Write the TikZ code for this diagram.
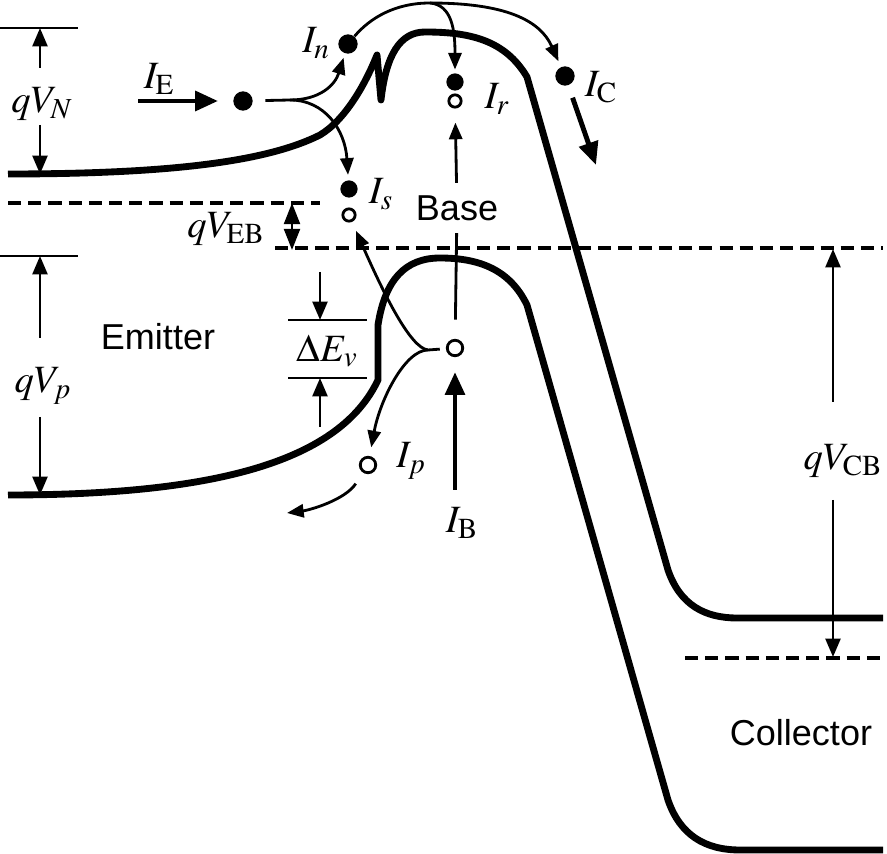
\documentclass[tikz,border=0pt]{standalone}
\usepackage{mathptmx}
\usepackage{fontspec}
\setmainfont{Liberation Serif}
\setsansfont{Liberation Sans}
\DeclareMathSizes{22}{22}{16.5}{12}
\usetikzlibrary{arrows.meta}
\begin{document}
\begin{tikzpicture}[x=0.02cm,y=-0.02cm,
	band/.style={line width=3.9pt,line join=round},
	wire/.style={line width=1.6pt},
	fermi/.style={line width=1.9pt,dash pattern=on 7.5pt off 4pt},
	tip/.style={-{Triangle[length=9.5pt,width=7.5pt]}},
	dim/.style={wire,-{Triangle[length=10.5pt,width=8.5pt]}},
	flow/.style={line width=2.8pt,-{Triangle[length=13pt,width=11pt]}},
	elec/.style={circle,fill,inner sep=0pt,minimum size=11pt},
	hole/.style={circle,draw,line width=1.6pt,inner sep=0pt,minimum size=8.8pt},
	lbl/.style={inner sep=0pt,font=\fontsize{22}{26}\selectfont},
	region/.style={inner sep=0pt,font=\sffamily\fontsize{20.5}{24}\selectfont}]
	\useasboundingbox (0,0) rectangle (887,854);
	\draw[band] (8,174) .. controls (180,174) and (270,160) .. (320,135) .. controls (345,120) and (365,85) .. (377,55) -- (381,100) .. controls (386,55) and (400,32) .. (425,32) .. controls (470,32) and (505,40) .. (527,77) -- (668,570) .. controls (680,605) and (705,618) .. (737,618) -- (883,618);
	\draw[band] (8,495) .. controls (220,495) and (340,460) .. (378,380) -- (378,325) .. controls (385,280) and (405,258) .. (440,258) .. controls (480,258) and (510,270) .. (527,305) -- (668,800) .. controls (680,835) and (705,850) .. (740,850) -- (883,850);
	\draw[fermi] (8,203) -- (320,203);
	\draw[fermi] (275,248) -- (883,248);
	\draw[fermi] (685,658) -- (880,658);
	\draw[wire] (0,28) -- (78,28);
	\draw[wire] (0,256) -- (78,256);
	\draw[wire] (288,320) -- (367,320);
	\draw[wire] (288,378) -- (367,378);
	\node[region] (emit) at (158,337) {Emitter};
	\node[region] (base) at (457,208) {Base};
	\node[region] (coll) at (801,733) {Collector};
	\node[lbl] (lVN) at (42,104) {$qV_N$};
	\node[lbl] (lVp) at (43,386) {$qV_p$};
	\node[lbl] (lEB) at (226,229) {$qV_{\mathrm{EB}}$};
	\node[lbl] (lCB) at (843,461) {$qV_{\mathrm{CB}}$};
	\node[lbl] (lDE) at (327,351) {$\Delta E_v$};
	\node[lbl] (lE) at (159,79) {$I_{\mathrm{E}}$};
	\node[lbl] (lN) at (316,43) {$I_n$};
	\node[lbl] (lR) at (497,99) {$I_r$};
	\node[lbl] (lC) at (601,87) {$I_{\mathrm{C}}$};
	\node[lbl] (lS) at (381,194) {$I_s$};
	\node[lbl] (lP) at (411,461) {$I_p$};
	\node[lbl] (lB) at (462,523) {$I_{\mathrm{B}}$};
	\coordinate (vnA) at (40,68); \coordinate (vnB) at (40,28);
	\coordinate (vnC) at (40,125); \coordinate (vnD) at (40,174);
	\coordinate (vpA) at (40,338); \coordinate (vpB) at (40,256);
	\coordinate (vpC) at (40,417); \coordinate (vpD) at (40,495);
	\coordinate (cbA) at (833,402); \coordinate (cbB) at (833,249);
	\coordinate (cbC) at (833,500); \coordinate (cbD) at (833,657);
	\coordinate (dvA) at (320,272); \coordinate (dvB) at (320,320);
	\coordinate (dvC) at (320,427); \coordinate (dvD) at (320,378);
	\coordinate (ebA) at (292,203); \coordinate (ebB) at (292,250);
	\draw[dim] (vnA) -- (vnB);
	\draw[dim] (vnC) -- (vnD);
	\draw[dim] (vpA) -- (vpB);
	\draw[dim] (vpC) -- (vpD);
	\draw[dim] (cbA) -- (cbB);
	\draw[dim] (cbC) -- (cbD);
	\draw[dim] (dvA) -- (dvB);
	\draw[dim] (dvC) -- (dvD);
	\draw[wire,{Triangle[length=12pt,width=9pt]}-{Triangle[length=12pt,width=9pt]}] (ebA) -- (ebB);
	\node[elec] (eE) at (243,101) {};
	\node[elec] (eN) at (348,44) {};
	\node[elec,minimum size=9.8pt] (eR) at (455,82) {};
	\node[hole,minimum size=7pt] (hR) at (455,101) {};
	\node[elec] (eC) at (565,76) {};
	\node[elec,minimum size=9.8pt] (eS) at (349,189) {};
	\node[hole,minimum size=7pt] (hS) at (349,215) {};
	\node[hole] (hB) at (455,348) {};
	\node[hole] (hP) at (368,465) {};
	\coordinate (iE) at (138,101);
	\coordinate (iC) at (596,165);
	\coordinate (iB) at (455,490);
	\coordinate (eSplit) at (290,100);
	\coordinate (tSplit) at (430,3);
	\coordinate (hSplit) at (428,350);
	\coordinate (pEnd) at (287,513);
	\draw[flow,shorten >=8.5pt] (iE) -- (eE);
	\draw[flow,shorten <=7.4pt] (eC) -- (iC);
	\draw[flow,shorten >=8.5pt] (iB) -- (hB);
	\draw[wire,shorten <=7pt] (eE) -- (eSplit);
	\draw[wire,tip,shorten >=2.5pt] (eSplit) .. controls (320,100) and (335,85) .. (eN);
	\draw[wire,tip,shorten >=3pt] (eSplit) .. controls (325,100) and (345,130) .. (eS);
	\draw[wire] (eN) .. controls (370,18) and (395,3) .. (tSplit);
	\draw[wire,tip,shorten >=3.5pt] (tSplit) .. controls (505,3) and (540,20) .. (eC);
	\draw[wire,tip,shorten >=2pt] (tSplit) .. controls (452,5) and (455,30) .. (eR);
	\draw[wire,shorten <=11pt,shorten >=7pt] (hB) -- (base);
	\draw[wire,tip,shorten <=7pt,shorten >=8pt] (base) -- (hR);
	\draw[wire,shorten <=3.5pt] (hB) -- (hSplit);
	\draw[wire,tip,shorten >=5.5pt] (hSplit) .. controls (410,348) and (383,292) .. (hS);
	\draw[wire,tip,shorten >=5pt] (hSplit) .. controls (405,350) and (380,400) .. (hP);
	\draw[wire,tip,shorten <=7.5pt] (hP) .. controls (345,500) and (310,510) .. (pEnd);
\end{tikzpicture}
\end{document}
